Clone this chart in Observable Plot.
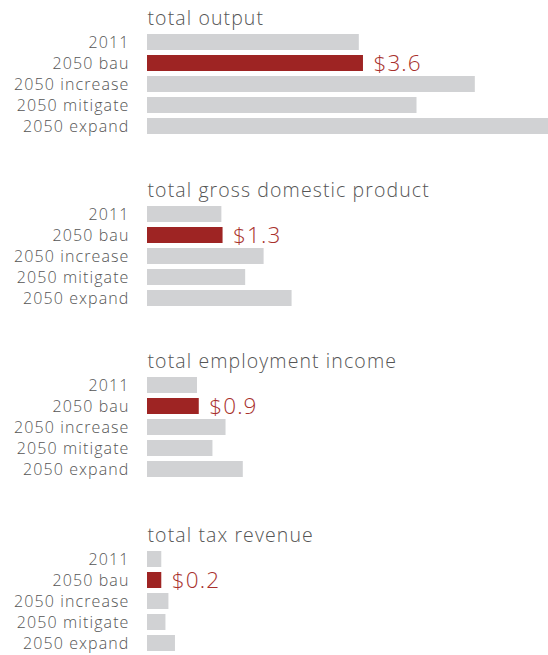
<!DOCTYPE html>
<html>
<head>
<meta charset="utf-8">
<script src="https://cdn.jsdelivr.net/npm/d3@7"></script>
<script src="https://cdn.jsdelivr.net/npm/@observablehq/plot@0.6"></script>
<style>
  html, body { margin: 0; padding: 0; background: #fff; overflow: hidden; }
  #chart svg { display: block; }
</style>
</head>
<body>
<div id="chart"></div>
<script>
// ---- data ----
const scenarios = ["2011", "2050 bau", "2050 increase", "2050 mitigate", "2050 expand"];
const titles = ["total output", "total gross domestic product", "total employment income", "total tax revenue"];
const highlight = "2050 bau";
// values in $ (units as labelled, e.g. trillions)
const totalOutput     = [3.56, 3.63, 5.51, 4.53, 6.90];
const totalGDP        = [1.25, 1.27, 1.96, 1.65, 2.43];
const totalEmployment = [0.84, 0.87, 1.32, 1.10, 1.61];
const totalTax        = [0.24, 0.24, 0.36, 0.31, 0.47];
const series = [totalOutput, totalGDP, totalEmployment, totalTax];

// ---- layout ----
const W = 548;
const panelHeights = [172, 171, 174, 138];
const xMax = 6.74;
const gray = "#d1d2d4";
const red = "#9e2423";
const labelRed = "#a8302c";
const textGray = "#555";
const fmt = v => "$" + d3.format(".1f")(v);

const root = document.getElementById("chart");
series.forEach((vals, i) => {
  const rows = scenarios.map((s, j) => ({scenario: s, value: vals[j]}));
  const h = panelHeights[i];
  const chart = Plot.plot({
    width: W,
    height: h,
    marginLeft: 147,
    marginRight: 0,
    marginTop: 33,
    marginBottom: h - 33 - 102,
    style: {fontFamily: "'Open Sans', sans-serif", fontWeight: 300, fontSize: "16px", letterSpacing: "1.1px", color: textGray, background: "#fff", overflow: "hidden"},
    x: {domain: [0, xMax], axis: null},
    y: {domain: scenarios, label: null, tickSize: 0, tickPadding: 18, paddingInner: 0.26, paddingOuter: 0},
    marks: [
      Plot.barX(rows, {x: "value", y: "scenario", fill: d => d.scenario === highlight ? red : gray, clip: true}),
      Plot.text(rows.filter(d => d.scenario === highlight), {
        x: "value", y: "scenario", text: d => fmt(d.value),
        dx: 10, textAnchor: "start", fill: labelRed, fontSize: 22.5, fontWeight: 300
      }),
      Plot.text([titles[i]], {
        text: d => d, frameAnchor: "top-left", dy: -9, lineAnchor: "bottom",
        textAnchor: "start", fontSize: 19.5, fill: textGray, fontWeight: 300
      })
    ]
  });
  root.appendChild(chart);
});
</script>
</body>
</html>
